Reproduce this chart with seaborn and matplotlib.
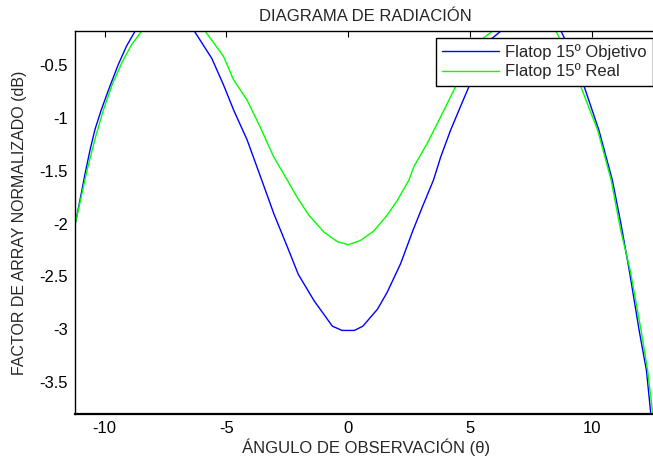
import matplotlib
matplotlib.use("Agg")
import matplotlib.pyplot as plt
from matplotlib.ticker import FuncFormatter
import seaborn as sns
import pandas as pd

# curves (angle in degrees, level in dB)
objetivo_x = [-11.2, -10.95, -10.8, -10.6, -10.4, -10.15, -9.85, -9.45, -9.1, -8.75, -8.2,
              -7.55, -6.9, -6.35, -5.6, -5.12, -4.7, -4.15, -3.55, -3.05, -2.5, -2.05,
              -1.4, -0.65, -0.25, 0.25, 0.6, 1.2, 1.6, 2.15, 2.65, 3.05, 3.5, 3.8, 4.2,
              4.6, 4.95, 5.75, 6.27, 6.9, 7.5, 8.1, 8.74, 9.2, 9.7, 10.3, 10.85, 11.2,
              11.55, 11.95, 12.25, 12.45, 12.6]
objetivo_y = [-1.99, -1.70, -1.52, -1.30, -1.11, -0.93, -0.74, -0.50, -0.32, -0.18, -0.05,
              0.0, -0.05, -0.17, -0.44, -0.69, -0.93, -1.21, -1.59, -1.91, -2.22, -2.48,
              -2.73, -2.97, -3.01, -3.01, -2.97, -2.81, -2.65, -2.38, -2.07, -1.84, -1.59,
              -1.37, -1.12, -0.90, -0.71, -0.28, -0.18, -0.04, 0.0, -0.04, -0.18, -0.40,
              -0.71, -1.12, -1.59, -2.0, -2.45, -3.01, -3.39, -3.85, -4.1]

real_x = [-11.2, -10.95, -10.73, -10.4, -10.06, -9.7, -9.3, -8.9, -8.48, -7.9, -7.2,
          -6.5, -5.91, -5.12, -4.71, -4.16, -3.61, -3.06, -2.5, -2.1, -1.62, -1.0,
          -0.45, 0.0, 0.5, 1.05, 1.6, 2.02, 2.49, 2.7, 3.25, 3.8, 4.38, 5.31, 5.93,
          6.6, 7.2, 7.9, 8.53, 9.0, 9.56, 10.25, 10.8, 11.18, 11.59, 12.03, 12.3,
          12.51, 12.65]
real_y = [-1.99, -1.73, -1.50, -1.20, -0.93, -0.69, -0.48, -0.31, -0.18, -0.04, 0.0,
          -0.05, -0.17, -0.42, -0.64, -0.83, -1.09, -1.37, -1.59, -1.75, -1.92, -2.08,
          -2.17, -2.20, -2.16, -2.07, -1.92, -1.78, -1.59, -1.46, -1.24, -0.99, -0.72,
          -0.29, -0.18, -0.04, 0.0, -0.05, -0.18, -0.40, -0.71, -1.12, -1.59, -2.05,
          -2.45, -3.01, -3.39, -3.8, -4.05]

labels = ["Flatop 15º Objetivo", "Flatop 15º Real"]
x_ticks = [-10, -5, 0, 5, 10]
y_ticks = [-3.5, -3, -2.5, -2, -1.5, -1, -0.5]

df = pd.concat([
    pd.DataFrame({"theta": objetivo_x, "dB": objetivo_y, "serie": labels[0]}),
    pd.DataFrame({"theta": real_x, "dB": real_y, "serie": labels[1]}),
])

sns.set_style("white")
plt.rcParams["font.family"] = ["Liberation Sans", "DejaVu Sans"]
plt.rcParams["axes.unicode_minus"] = False

fig = plt.figure(figsize=(6.53, 4.59), dpi=100)
# right spine falls just outside the picture, as in the reference
ax = fig.add_axes([0.1149, 0.098, 0.89, 0.8344])

sns.lineplot(data=df, x="theta", y="dB", hue="serie", sort=False, estimator=None,
             palette={labels[0]: "#0000ff", labels[1]: "#00ff00"}, linewidth=1.0,
             ax=ax, legend=False)

ax.set_xlim(-11.22, 12.65)
ax.set_ylim(-3.8, -0.18)
ax.set_xticks(x_ticks)
ax.set_yticks(y_ticks)
ax.yaxis.set_major_formatter(FuncFormatter(lambda v, p: "%g" % v))
ax.tick_params(direction="in", length=4, width=0.8, top=True, right=False,
               labelsize=12, pad=5, colors="black")

for side in ["left", "bottom", "top", "right"]:
    ax.spines[side].set_color("black")
    ax.spines[side].set_linewidth(1.0)
ax.spines["bottom"].set_linewidth(1.6)

ax.set_title("DIAGRAMA DE RADIACIÓN", fontsize=12, pad=7)
ax.set_xlabel("ÁNGULO DE OBSERVACIÓN (θ)", fontsize=12, labelpad=2)
ax.set_ylabel("FACTOR DE ARRAY NORMALIZADO (dB)", fontsize=11.5, labelpad=9)

handles = ax.get_lines()[:2]
leg = fig.legend(handles, labels, loc="upper right", bbox_to_anchor=(1.0, 0.918),
                 fontsize=12, frameon=True, fancybox=False, framealpha=1,
                 edgecolor="black", handlelength=3.4, borderpad=0.4,
                 labelspacing=0.2, handletextpad=0.35, borderaxespad=0)
leg.get_frame().set_linewidth(1.0)

fig.savefig("out.png", dpi=100)
